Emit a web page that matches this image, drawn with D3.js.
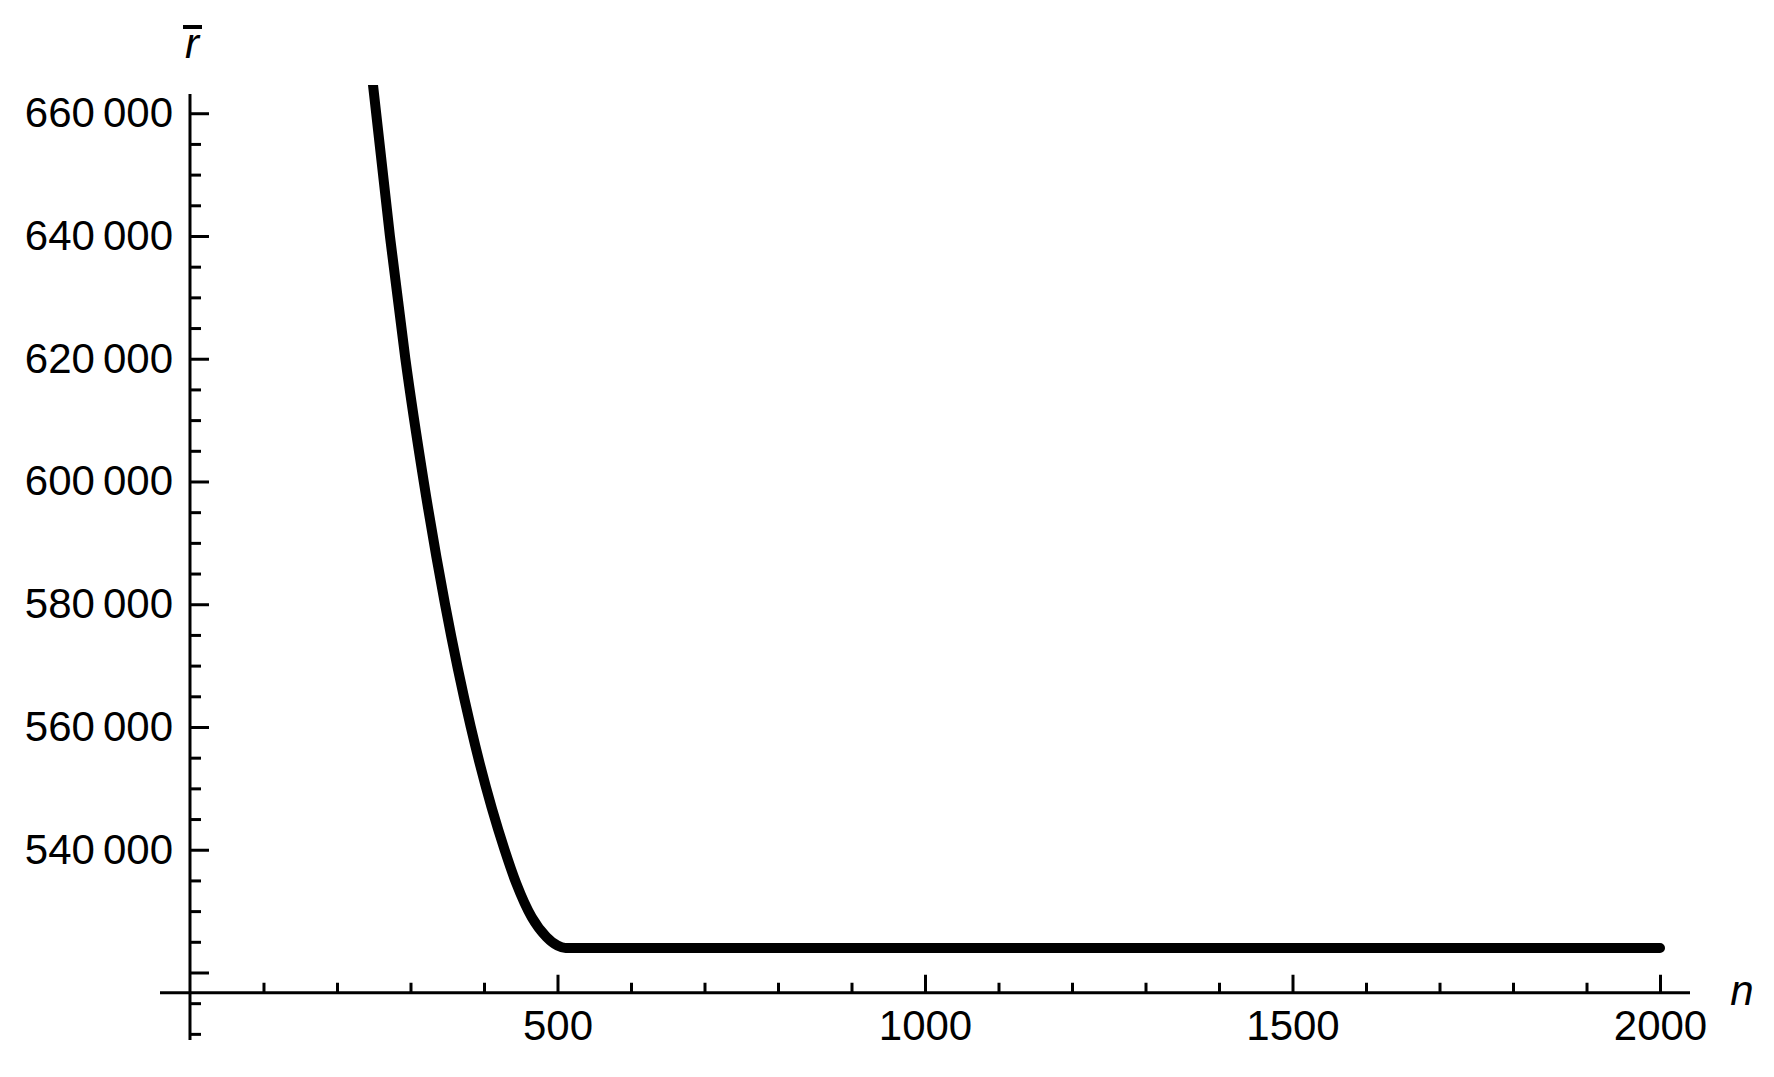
<!DOCTYPE html>
<html>
<head>
<meta charset="utf-8">
<script src="https://cdn.jsdelivr.net/npm/d3@7"></script>
<style>
  body { margin: 0; background: #fff; }
  text { font-family: "Liberation Sans", Arial, sans-serif; fill: #000; }
</style>
</head>
<body>
<div id="chart"></div>
<script>
// curve points: n and mean r
var nValues = [249, 272, 293, 318, 347, 382, 428, 444, 465, 485, 500, 511, 2000];
var rValues = [664600, 640000, 620000, 600000, 580000, 560000, 540000, 534500, 529000, 525800, 524400, 524000, 524000];

var xMajorTicks = [500, 1000, 1500, 2000];
var xMinorTicks = [100, 200, 300, 400, 600, 700, 800, 900, 1100, 1200, 1300, 1400, 1600, 1700, 1800, 1900];
var yLabelTicks = [540000, 560000, 580000, 600000, 620000, 640000, 660000];
var yMajorTicks = [520000, 540000, 560000, 580000, 600000, 620000, 640000, 660000];
var yMinorTicks = [510000, 515000, 525000, 530000, 535000, 545000, 550000, 555000, 565000, 570000,
                   575000, 585000, 590000, 595000, 605000, 610000, 615000, 625000, 630000, 635000,
                   645000, 650000, 655000];

var width = 1774, height = 1077;

var svg = d3.select("#chart")
    .append("svg")
    .attr("width", width)
    .attr("height", height)

svg.append("rect").attr("width", width).attr("height", height).attr("fill", "#fff")

var x = d3.scaleLinear().domain([-40.8, 2040.8]).range([160, 1690])
var y = d3.scaleLinear().domain([509000, 664600]).range([1040, 85])

var xAxisY = y(516700)

// x axis
var xAxis = svg.append("g")
    .attr("transform", "translate(0," + xAxisY + ")")
    .call(d3.axisBottom(x).tickValues(xMajorTicks).tickSize(-18).tickSizeOuter(0).tickPadding(17)
      .tickFormat(d3.format("d")))
xAxis.select(".domain").remove()

var xMinor = svg.append("g")
    .attr("transform", "translate(0," + xAxisY + ")")
    .call(d3.axisBottom(x).tickValues(xMinorTicks).tickSize(-10).tickSizeOuter(0).tickFormat(""))
xMinor.select(".domain").remove()

svg.append("line")
    .attr("x1", x(-40.8)).attr("x2", x(2040.8))
    .attr("y1", xAxisY).attr("y2", xAxisY)
    .attr("stroke", "#000").attr("stroke-width", 3)

// y axis
var yAxis = svg.append("g")
    .attr("transform", "translate(" + x(0) + ",0)")
    .call(d3.axisLeft(y).tickValues(yMajorTicks).tickSize(-19).tickSizeOuter(0).tickPadding(17)
      .tickFormat(function(d) { return yLabelTicks.indexOf(d) >= 0 ? d : "" }))
yAxis.select(".domain").remove()

var yMinor = svg.append("g")
    .attr("transform", "translate(" + x(0) + ",0)")
    .call(d3.axisLeft(y).tickValues(yMinorTicks).tickSize(-11).tickSizeOuter(0).tickFormat(""))
yMinor.select(".domain").remove()

svg.append("line")
    .attr("x1", x(0)).attr("x2", x(0))
    .attr("y1", y(509000)).attr("y2", y(663150))
    .attr("stroke", "#000").attr("stroke-width", 3)

svg.selectAll(".tick line").attr("stroke", "#000").attr("stroke-width", 3)
svg.selectAll(".tick text")
    .attr("font-size", "42px")
    .attr("font-family", "'Liberation Sans', Arial, sans-serif")
    .attr("fill", "#000")

// split thousands with a thin gap, like "660 000"
yAxis.selectAll(".tick text").each(function(d) {
  if (yLabelTicks.indexOf(d) < 0) return
  var t = d3.select(this).text(null)
  t.append("tspan").text(Math.floor(d / 1000))
  t.append("tspan").attr("dx", 8).text("000")
})

// curve
svg.append("clipPath").attr("id", "plotclip")
  .append("rect").attr("x", 0).attr("y", y(664600)).attr("width", width).attr("height", height)

var points = nValues.map(function(n, i) { return [n, rValues[i]] })

var line = d3.line()
    .x(function(d) { return x(d[0]) })
    .y(function(d) { return y(d[1]) })
    .curve(d3.curveMonotoneX)

svg.append("path")
    .datum(points)
    .attr("d", line)
    .attr("clip-path", "url(#plotclip)")
    .attr("fill", "none")
    .attr("stroke", "#000")
    .attr("stroke-width", 10)
    .attr("stroke-linecap", "round")
    .attr("stroke-linejoin", "round")

// axis labels
svg.append("text")
    .text("r")
    .attr("x", 192)
    .attr("y", 58)
    .attr("text-anchor", "middle")
    .attr("font-size", "42px")
    .style("font-style", "italic")

svg.append("line")
    .attr("x1", 183).attr("x2", 202)
    .attr("y1", 27).attr("y2", 27)
    .attr("stroke", "#000").attr("stroke-width", 4)

svg.append("text")
    .text("n")
    .attr("x", 1742)
    .attr("y", 1005)
    .attr("text-anchor", "middle")
    .attr("font-size", "42px")
    .style("font-style", "italic")
</script>
</body>
</html>
